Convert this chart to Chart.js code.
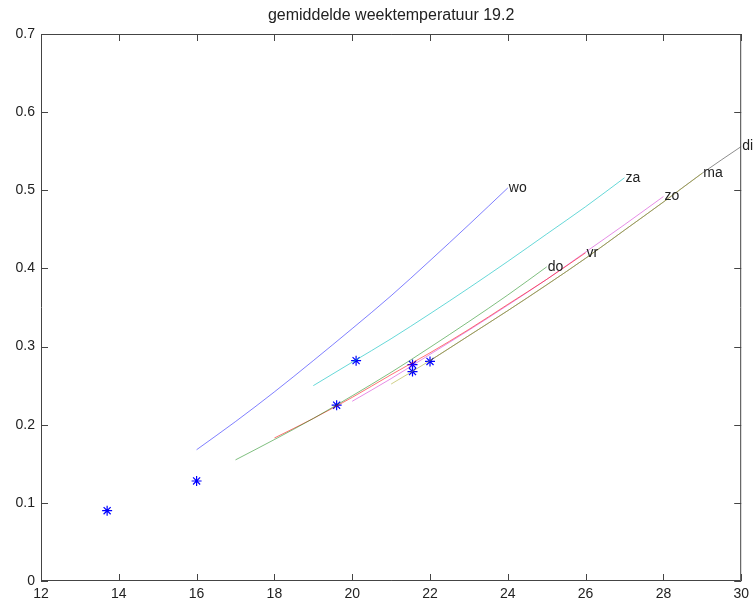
<!DOCTYPE html>
<html>
<head>
<meta charset="utf-8">
<script src="https://cdn.jsdelivr.net/npm/chart.js@4"></script>
<style>
  body { margin: 0; background: #fff; }
  #wrap { width: 754px; height: 600px; }
</style>
</head>
<body>
<div id="wrap"><canvas id="tempChart"></canvas></div>
<script>
// weekdagen en hun curves (temperatuur -> waarde)
const dayNames = ['wo', 'za', 'do', 'vr', 'zo', 'ma', 'di'];

const woTemp = [16, 17, 18, 19, 20, 21, 22, 23, 24];
const woVal  = [0.168, 0.204, 0.242, 0.282, 0.323, 0.365, 0.410, 0.456, 0.503];
const zaTemp = [19, 20, 21, 22, 23, 24, 25, 26, 27];
const zaVal  = [0.250, 0.280, 0.310, 0.342, 0.375, 0.409, 0.444, 0.479, 0.516];
const doTemp = [17, 18, 19, 20, 21, 22, 23, 24, 25];
const doVal  = [0.155, 0.181, 0.208, 0.237, 0.267, 0.299, 0.332, 0.366, 0.402];
const vrTemp = [18, 19, 20, 21, 22, 23, 24, 25, 26];
const vrVal  = [0.183, 0.208, 0.235, 0.264, 0.292, 0.322, 0.354, 0.386, 0.420];
const zoTemp = [20, 21, 22, 23, 24, 25, 26, 27, 28];
const zoVal  = [0.230, 0.259, 0.290, 0.321, 0.353, 0.386, 0.421, 0.456, 0.492];
const maTemp = [21, 22, 23, 24, 25, 26, 27, 28, 29];
const maVal  = [0.252, 0.282, 0.314, 0.346, 0.379, 0.413, 0.449, 0.485, 0.522];
const diTemp = [22, 23, 24, 25, 26, 27, 28, 29, 30];
const diVal  = [0.282, 0.314, 0.346, 0.379, 0.413, 0.449, 0.485, 0.522, 0.556];

// gemeten punten (sterretjes)
const obsTemp = [13.7, 16.0, 19.6, 20.1, 21.55, 21.55, 22.0];
const obsVal  = [0.090, 0.128, 0.225, 0.282, 0.277, 0.268, 0.281];

const xTicks = [12, 14, 16, 18, 20, 22, 24, 26, 28, 30];
const yTicks = [0, 0.1, 0.2, 0.3, 0.4, 0.5, 0.6, 0.7];
const titleText = 'gemiddelde weektemperatuur 19.2';

const curveTemps = [woTemp, zaTemp, doTemp, vrTemp, zoTemp, maTemp, diTemp];
const curveVals  = [woVal, zaVal, doVal, vrVal, zoVal, maVal, diVal];
const curveColors = [
  'rgba(0,0,255,0.5)', 'rgba(0,190,190,0.6)', 'rgba(0,128,0,0.5)', 'rgba(255,0,0,0.55)',
  'rgba(200,0,200,0.45)', 'rgba(170,170,40,0.55)', 'rgba(0,0,0,0.45)'
];

const toPoints = (xs, ys) => xs.map((x, i) => ({ x: x, y: ys[i] }));

const datasets = dayNames.map((name, i) => ({
  label: name,
  data: toPoints(curveTemps[i], curveVals[i]),
  showLine: true,
  borderColor: curveColors[i],
  borderWidth: 1,
  pointRadius: 0,
  fill: false,
  cubicInterpolationMode: 'monotone'
}));

datasets.push({
  label: 'gemeten',
  data: toPoints(obsTemp, obsVal),
  showLine: false,
  pointStyle: 'star',
  pointRadius: 5,
  borderColor: '#0000ff',
  borderWidth: 1.2,
  backgroundColor: '#0000ff'
});

const FONT = '14px "Liberation Sans", Arial, sans-serif';
Chart.defaults.font.family = '"Liberation Sans", Arial, sans-serif';
Chart.defaults.font.size = 14;
Chart.defaults.color = '#222';

// kader, naar binnen wijzende streepjes, titel en dagnamen
const frame = {
  id: 'frame',
  afterDraw(chart) {
    const { ctx, chartArea: a, scales: { x, y } } = chart;
    const tl = 7;
    ctx.save();
    ctx.strokeStyle = '#444';
    ctx.lineWidth = 1;
    ctx.beginPath();
    ctx.rect(a.left + 0.5, a.top + 0.5, a.right - a.left - 1, a.bottom - a.top - 1);
    xTicks.forEach(v => {
      const px = Math.round(x.getPixelForValue(v)) + 0.5;
      ctx.moveTo(px, a.bottom); ctx.lineTo(px, a.bottom - tl);
      ctx.moveTo(px, a.top); ctx.lineTo(px, a.top + tl);
    });
    yTicks.forEach(v => {
      const py = Math.round(y.getPixelForValue(v)) + 0.5;
      ctx.moveTo(a.left, py); ctx.lineTo(a.left + tl, py);
      ctx.moveTo(a.right, py); ctx.lineTo(a.right - tl, py);
    });
    ctx.stroke();

    ctx.fillStyle = '#222';
    ctx.font = '16px "Liberation Sans", Arial, sans-serif';
    ctx.textAlign = 'center';
    ctx.textBaseline = 'middle';
    ctx.fillText(titleText, (a.left + a.right) / 2, 16);

    ctx.font = FONT;
    ctx.textAlign = 'left';
    dayNames.forEach((name, i) => {
      const xs = curveTemps[i], ys = curveVals[i];
      const px = x.getPixelForValue(xs[xs.length - 1]);
      const py = y.getPixelForValue(ys[ys.length - 1]);
      ctx.fillText(name, px + 1, py);
    });
    ctx.restore();
  }
};

new Chart(document.getElementById('tempChart'), {
  type: 'scatter',
  data: { datasets },
  options: {
    responsive: true,
    maintainAspectRatio: false,
    animation: false,
    layout: { padding: { top: 34, right: 12, left: 0, bottom: 0 } },
    plugins: { legend: { display: false }, tooltip: { enabled: false } },
    scales: {
      x: {
        type: 'linear', min: 12, max: 30,
        afterBuildTicks: s => { s.ticks = xTicks.map(v => ({ value: v })); },
        afterFit: s => { s.height = 19; },
        grid: { display: false, drawTicks: false },
        border: { display: false },
        ticks: { padding: 5, maxRotation: 0 }
      },
      y: {
        type: 'linear', min: 0, max: 0.7,
        afterBuildTicks: s => { s.ticks = yTicks.map(v => ({ value: v })); },
        afterFit: s => { s.width = 41; },
        grid: { display: false, drawTicks: false },
        border: { display: false },
        ticks: { padding: 6, callback: v => String(v) }
      }
    }
  },
  plugins: [frame]
});
</script>
</body>
</html>
